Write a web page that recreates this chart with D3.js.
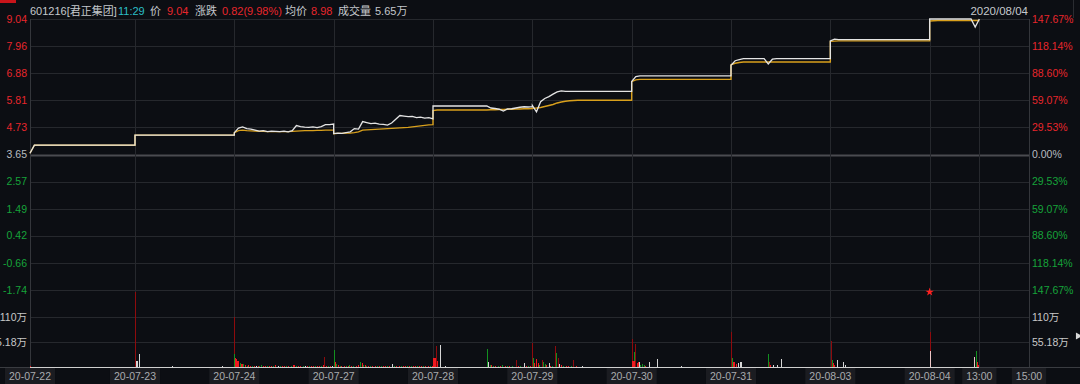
<!DOCTYPE html>
<html><head><meta charset="utf-8">
<script src="https://cdn.jsdelivr.net/npm/d3@7"></script>
<style>
html,body{margin:0;padding:0;background:#0c0e13;}
svg{display:block;}
text{font-family:"Liberation Sans","Noto Sans CJK SC",sans-serif;}
</style></head>
<body><svg id="c" width="1080" height="384"></svg>
<script>
// ---------- DATA ----------
const dayLabels = ["20-07-22","20-07-23","20-07-24","20-07-27","20-07-28","20-07-29","20-07-30","20-07-31","20-08-03","20-08-04"];
const extraLabels = [["13:00",9.5],["15:00",10]];
const priceTicks = [9.04,7.96,6.88,5.81,4.73,3.65,2.57,1.49,0.42,-0.66,-1.74];
const pctLabels = ["147.67%","118.14%","88.60%","59.07%","29.53%","0.00%","29.53%","59.07%","88.60%","118.14%","147.67%"];
const volTicks = [110,55.18];
const volTickLabels = ["110万","55.18万"];
const preClose = 3.65;

// price per day (10-minute samples, 9:30 .. 15:00)
const price0722 = [3.70,4.02,4.02,4.02,4.02,4.02,4.02,4.02,4.02,4.02,4.02,4.02,4.02,4.02,4.02,4.02,4.02,4.02,4.02,4.02,4.02,4.02,4.02,4.02,4.02];
const price0723 = [4.42,4.42,4.42,4.42,4.42,4.42,4.42,4.42,4.42,4.42,4.42,4.42,4.42,4.42,4.42,4.42,4.42,4.42,4.42,4.42,4.42,4.42,4.42,4.42,4.42];
const price0724 = [4.52,4.70,4.75,4.68,4.66,4.62,4.58,4.60,4.56,4.58,4.57,4.56,4.58,4.55,4.60,4.80,4.76,4.74,4.73,4.75,4.72,4.76,4.84,4.84,4.86];
const price0727 = [4.48,4.50,4.49,4.52,4.55,4.68,4.66,4.96,4.92,4.88,4.90,4.86,4.85,4.82,4.90,5.05,5.20,5.18,5.16,5.17,5.12,5.14,5.10,5.12,5.07];
const price0728 = [5.58,5.58,5.58,5.58,5.58,5.58,5.58,5.58,5.58,5.58,5.58,5.58,5.58,5.58,5.50,5.48,5.45,5.38,5.46,5.47,5.50,5.53,5.55,5.54,5.55];
const price0729 = [5.60,5.35,5.75,5.88,5.95,6.05,6.14,6.18,6.16,6.16,6.16,6.16,6.16,6.16,6.16,6.16,6.16,6.16,6.16,6.16,6.16,6.16,6.16,6.16,6.16];
const price0730 = [6.55,6.75,6.78,6.78,6.78,6.78,6.78,6.78,6.78,6.78,6.78,6.78,6.78,6.78,6.78,6.78,6.78,6.78,6.78,6.78,6.78,6.78,6.78,6.78,6.78];
const price0731 = [7.20,7.38,7.42,7.46,7.46,7.46,7.46,7.46,7.46,7.25,7.44,7.46,7.46,7.46,7.46,7.46,7.46,7.46,7.46,7.46,7.46,7.46,7.46,7.46,7.46];
const price0803 = [8.17,8.24,8.22,8.22,8.22,8.22,8.22,8.22,8.22,8.22,8.22,8.22,8.22,8.22,8.22,8.22,8.22,8.22,8.22,8.22,8.22,8.22,8.22,8.22,8.22];
const price0804 = [9.04,9.04,9.04,9.04,9.04,9.04,9.04,9.04,9.04,9.04,9.04,8.72,9.04];

// average price per day
const avg0722 = [3.70,4.02,4.02,4.02,4.02,4.02,4.02,4.02,4.02,4.02,4.02,4.02,4.02,4.02,4.02,4.02,4.02,4.02,4.02,4.02,4.02,4.02,4.02,4.02,4.02];
const avg0723 = [4.42,4.42,4.42,4.42,4.42,4.42,4.42,4.42,4.42,4.42,4.42,4.42,4.42,4.42,4.42,4.42,4.42,4.42,4.42,4.42,4.42,4.42,4.42,4.42,4.42];
const avg0724 = [4.52,4.60,4.62,4.60,4.59,4.58,4.57,4.57,4.56,4.56,4.56,4.56,4.56,4.56,4.57,4.58,4.59,4.60,4.60,4.60,4.61,4.61,4.62,4.62,4.62];
const avg0727 = [4.48,4.49,4.49,4.50,4.50,4.52,4.55,4.62,4.63,4.64,4.65,4.66,4.67,4.68,4.69,4.70,4.71,4.72,4.73,4.75,4.77,4.79,4.81,4.83,4.84];
const avg0728 = [5.40,5.42,5.42,5.42,5.42,5.42,5.42,5.42,5.42,5.42,5.42,5.42,5.42,5.42,5.43,5.43,5.44,5.44,5.45,5.45,5.46,5.46,5.47,5.47,5.48];
const avg0729 = [5.49,5.50,5.52,5.56,5.60,5.64,5.70,5.74,5.77,5.79,5.80,5.81,5.81,5.81,5.81,5.81,5.81,5.81,5.81,5.81,5.81,5.81,5.81,5.81,5.81];
const avg0730 = [6.55,6.62,6.64,6.64,6.64,6.64,6.64,6.64,6.64,6.64,6.64,6.64,6.64,6.64,6.64,6.64,6.64,6.64,6.64,6.64,6.64,6.64,6.64,6.64,6.64];
const avg0731 = [7.22,7.28,7.31,7.33,7.33,7.33,7.33,7.33,7.33,7.33,7.33,7.33,7.33,7.33,7.33,7.33,7.33,7.33,7.33,7.33,7.33,7.33,7.33,7.33,7.33];
const avg0803 = [8.15,8.16,8.17,8.17,8.17,8.17,8.17,8.17,8.17,8.17,8.17,8.17,8.17,8.17,8.17,8.17,8.17,8.17,8.17,8.17,8.17,8.17,8.17,8.17,8.17];
const avg0804 = [8.96,8.97,8.98,8.98,8.98,8.98,8.98,8.98,8.98,8.98,8.98,8.98,8.98];

const priceDays = [price0722,price0723,price0724,price0727,price0728,price0729,price0730,price0731,price0803,price0804];
const avgDays = [avg0722,avg0723,avg0724,avg0727,avg0728,avg0729,avg0730,avg0731,avg0803,avg0804];

// volume bars: [day, minute, 万, colour code]
const volumes = [
[0,0,3,'r'],
[1,0,165,'R'],[1,3,14,'w'],[1,5,14,'w'],[1,10,29,'w'],[1,90,3,'w'],[1,212,2,'w'],
[2,0,109,'R'],[2,1,29,'g'],[2,3,20,'r'],[2,5,18,'r'],[2,8,14,'r'],[2,11,13,'r'],[2,14,9,'g'],[2,17,7,'r'],[2,20,6,'r'],[2,23,6,'g'],[2,27,4,'r'],[2,31,3,'g'],[2,35,4,'r'],[2,40,3,'r'],[2,44,2,'g'],[2,49,3,'r'],[2,53,2,'w'],[2,58,3,'r'],[2,62,2,'g'],[2,66,5,'g'],[2,70,3,'r'],[2,75,2,'r'],[2,80,3,'g'],[2,85,2,'r'],[2,90,3,'r'],[2,95,2,'g'],[2,100,4,'r'],[2,106,2,'w'],[2,111,3,'g'],[2,116,2,'r'],[2,121,3,'r'],[2,127,2,'g'],[2,132,3,'r'],[2,137,2,'g'],[2,142,5,'r'],[2,146,4,'r'],[2,151,3,'g'],[2,156,2,'r'],[2,161,3,'r'],[2,166,2,'g'],[2,171,3,'w'],[2,176,2,'r'],[2,181,3,'g'],[2,186,2,'r'],[2,191,3,'r'],[2,196,2,'g'],[2,201,3,'r'],[2,206,2,'r'],[2,211,3,'g'],[2,216,4,'r'],[2,219,21,'R'],[2,223,3,'r'],[2,228,2,'g'],[2,233,3,'r'],[2,238,2,'w'],
[3,1,37,'g'],[3,3,12,'g'],[3,5,10,'r'],[3,8,6,'g'],[3,12,4,'r'],[3,16,3,'g'],[3,20,3,'r'],[3,25,2,'r'],[3,30,3,'g'],[3,35,2,'r'],[3,39,5,'g'],[3,44,3,'r'],[3,49,2,'g'],[3,54,3,'r'],[3,59,4,'r'],[3,64,12,'r'],[3,66,10,'g'],[3,69,8,'r'],[3,72,5,'g'],[3,76,4,'r'],[3,80,3,'g'],[3,85,3,'r'],[3,90,2,'g'],[3,95,3,'r'],[3,100,2,'r'],[3,105,3,'g'],[3,110,2,'r'],[3,115,3,'g'],[3,120,2,'r'],[3,125,3,'r'],[3,130,2,'g'],[3,135,3,'r'],[3,143,7,'w'],[3,148,3,'g'],[3,153,2,'r'],[3,158,3,'r'],[3,163,2,'g'],[3,168,3,'r'],[3,173,2,'r'],[3,178,3,'g'],[3,183,2,'r'],[3,188,3,'g'],[3,193,2,'r'],[3,198,3,'r'],[3,203,2,'g'],[3,208,3,'r'],[3,213,2,'r'],[3,218,3,'g'],[3,223,2,'r'],[3,228,3,'r'],[3,233,2,'g'],[3,238,3,'r'],
[4,2,19,'r'],[4,4,19,'r'],[4,6,19,'r'],[4,8,46,'R'],[4,10,14,'r'],[4,18,48,'w'],[4,29,3,'w'],[4,132,39,'g'],[4,134,12,'w'],[4,138,5,'g'],[4,142,4,'r'],[4,147,3,'g'],[4,152,2,'r'],[4,158,3,'g'],[4,163,2,'r'],[4,169,5,'g'],[4,174,3,'r'],[4,180,2,'g'],[4,186,3,'r'],[4,192,2,'g'],[4,201,15,'R'],[4,206,3,'r'],[4,212,2,'g'],[4,220,8,'w'],[4,225,3,'r'],[4,230,2,'g'],[4,236,3,'r'],
[5,1,52,'R'],[5,3,20,'g'],[5,6,9,'r'],[5,11,17,'r'],[5,14,8,'r'],[5,18,5,'g'],[5,24,15,'R'],[5,28,12,'g'],[5,31,6,'g'],[5,35,4,'r'],[5,41,8,'w'],[5,45,3,'r'],[5,49,3,'g'],[5,55,46,'R'],[5,59,31,'g'],[5,63,20,'R'],[5,65,7,'w'],[5,70,4,'r'],[5,76,3,'g'],[5,82,2,'r'],[5,88,3,'r'],[5,94,2,'g'],[5,100,15,'R'],[5,106,2,'r'],[5,122,3,'w'],[5,160,1,'w'],
[6,2,61,'R'],[6,3,14,'r'],[6,4,14,'r'],[6,6,34,'g'],[6,8,14,'r'],[6,10,51,'R'],[6,13,8,'r'],[6,16,12,'r'],[6,18,11,'w'],[6,22,5,'g'],[6,26,6,'g'],[6,30,4,'g'],[6,34,3,'r'],[6,42,12,'w'],[6,63,18,'w'],[6,121,2,'w'],
[7,2,78,'R'],[7,3,20,'g'],[7,5,12,'r'],[7,7,12,'r'],[7,9,10,'r'],[7,14,7,'r'],[7,18,8,'w'],[7,22,12,'w'],[7,25,12,'w'],[7,90,29,'g'],[7,92,12,'R'],[7,95,5,'r'],[7,102,5,'w'],[7,112,5,'w'],[7,122,18,'w'],
[8,2,57,'R'],[8,5,15,'g'],[8,7,8,'r'],[8,10,4,'r'],[8,18,15,'w'],[8,31,12,'w'],[8,37,4,'w'],
[9,1,76,'R'],[9,2,35,'p'],[9,109,21,'p'],[9,112,35,'g'],[9,115,12,'r'],[9,119,5,'r']
];
const markerStar = [[9,0,165]];

const header = [
  ["601216[君正集团]", "#c4c8cc"],["11:29","#2bbfc6"],["价","#c4c8cc"],["9.04","#e8262c"],
  ["涨跌","#c4c8cc"],["0.82(9.98%)","#e8262c"],["均价","#c4c8cc"],["8.98","#e8262c"],
  ["成交量","#c4c8cc"],["5.65万","#c4c8cc"]
];
const headerX = [30,118,150,167,195,222,285,311,338,375];
const dateLabel = "2020/08/04";

// ---------- DRAW ----------
const svg = d3.select("#c");
const BG = "#0c0e13", GRID = "#26282d", RED = "#e8262c", GREEN = "#16a33a", GRAY = "#b8bcc0";
svg.append("rect").attr("width",1080).attr("height",384).attr("fill",BG);

const x = d3.scaleLinear().domain([0,1,10]).range([30,135,1029]);
const y = d3.scaleLinear().domain([-1.74,9.04]).range([290,19]);
const v = d3.scaleLinear().domain([0,110]).range([367,317]);

// top chrome
svg.append("rect").attr("x",0).attr("y",0).attr("width",16).attr("height",3).attr("fill","#c8141a");

// horizontal grid (price)
svg.append("g").selectAll("line").data(priceTicks).join("line")
  .attr("x1",x(0)).attr("x2",x(10))
  .attr("y1",d=>Math.round(y(d))+0.5).attr("y2",d=>Math.round(y(d))+0.5)
  .attr("stroke",d=>d===preClose?"#4a4b50":GRID)
  .attr("stroke-width",d=>d===preClose?2:1);
// horizontal grid (volume)
svg.append("g").selectAll("line").data(volTicks).join("line")
  .attr("x1",x(0)).attr("x2",x(10))
  .attr("y1",d=>Math.round(v(d))+0.5).attr("y2",d=>Math.round(v(d))+0.5)
  .attr("stroke",GRID);
// vertical grid
const vTicks = d3.range(1,10).concat([9.5]);
svg.append("g").selectAll("line").data(vTicks).join("line")
  .attr("x1",d=>Math.round(x(d))+0.5).attr("x2",d=>Math.round(x(d))+0.5)
  .attr("y1",y(9.04)).attr("y2",v(0))
  .attr("stroke",GRID);
// borders
svg.append("g").selectAll("line").data([0,10]).join("line")
  .attr("x1",d=>Math.round(x(d))+0.5).attr("x2",d=>Math.round(x(d))+0.5)
  .attr("y1",y(9.04)).attr("y2",384)
  .attr("stroke","#34363b");
svg.append("line").attr("x1",0).attr("x2",1080)
  .attr("y1",Math.round(v(0))+0.5).attr("y2",Math.round(v(0))+0.5).attr("stroke","#3a3c41");

// volume bars
const colorMap = {R:"#8e0b0d", r:"#f01a1f", g:"#139020", w:"#d6d6d6", p:"#ecc6c6"};
const tOf = (d,m)=>d + m/240;
// minimum-volume trace along the baseline
svg.append("line").attr("x1",x(0)).attr("x2",x(tOf(9,119)))
  .attr("y1",Math.round(v(0))+0.5).attr("y2",Math.round(v(0))+0.5)
  .attr("stroke","#cfcfcf");
svg.append("g").attr("shape-rendering","crispEdges").selectAll("rect").data(volumes).join("rect")
  .attr("x",d=>Math.floor(x(tOf(d[0],d[1]))))
  .attr("width",1)
  .attr("y",d=>v(d[2]))
  .attr("height",d=>v(0)-v(d[2]))
  .attr("fill",d=>colorMap[d[3]]);
// star marker
svg.append("g").selectAll("path").data(markerStar).join("path")
  .attr("transform",d=>`translate(${x(tOf(d[0],d[1]))},${v(d[2])})`)
  .attr("d",d3.symbol().type(d3.symbolStar).size(22))
  .attr("fill","#ff2020");

// price & average lines
function series(days){
  const pts=[];
  days.forEach((arr,d)=>arr.forEach((p,k)=>pts.push({t:d+k/24,p})));
  return pts;
}
const line = d3.line().x(d=>x(d.t)).y(d=>y(d.p));
svg.append("path").datum(series(avgDays)).attr("d",line)
  .attr("fill","none").attr("stroke","#d9a01c").attr("stroke-width",1.4);
svg.append("path").datum(series(priceDays)).attr("d",line)
  .attr("fill","none").attr("stroke","#e4e4e4").attr("stroke-width",1.3);

// left price labels
const colOf = d => d>preClose?RED:(d<preClose?GREEN:GRAY);
svg.append("g").selectAll("text").data(priceTicks).join("text")
  .attr("x",27).attr("y",d=>y(d)).attr("dy","0.36em")
  .attr("text-anchor","end").attr("font-size",10.5)
  .attr("fill",colOf).text(d=>d.toFixed(2));
// right pct labels
svg.append("g").selectAll("text").data(priceTicks).join("text")
  .attr("x",1032).attr("y",d=>y(d)).attr("dy","0.36em")
  .attr("font-size",10.5)
  .attr("fill",colOf).text((d,i)=>pctLabels[i]);
// volume labels
svg.append("g").selectAll("text").data(volTicks).join("text")
  .attr("x",27).attr("y",d=>v(d)).attr("dy","0.36em")
  .attr("text-anchor","end").attr("font-size",10.5)
  .attr("fill","#c8c8c8").text((d,i)=>volTickLabels[i]);
svg.append("g").selectAll("text").data(volTicks).join("text")
  .attr("x",1032).attr("y",d=>v(d)).attr("dy","0.36em")
  .attr("font-size",10.5)
  .attr("fill","#c8c8c8").text((d,i)=>volTickLabels[i]);

// bottom labels with boxes
const bottom = dayLabels.map((l,i)=>[l,i]).concat(extraLabels);
const bg = svg.append("g");
bottom.forEach(([l,t])=>{
  const g = bg.append("g");
  const r = g.append("rect").attr("fill","#1b1c21");
  const tx = g.append("text").attr("x",x(t)).attr("y",380).attr("text-anchor","middle")
    .attr("font-size",10.5).attr("fill","#a9abae").text(l);
  const w = tx.node().getComputedTextLength();
  r.attr("x",x(t)-w/2-4).attr("y",368).attr("width",w+8).attr("height",16);
});

// header
const hg = svg.append("g");
header.forEach(([s,c],i)=>{
  hg.append("text").attr("x",headerX[i]).attr("y",15).attr("font-size",11).attr("fill",c).text(s);
});
svg.append("text").attr("x",1028).attr("y",15).attr("text-anchor","end")
  .attr("font-size",11.5).attr("fill","#c4c8cc").text(dateLabel);

// right panel chrome
svg.append("line").attr("x1",1073.5).attr("x2",1073.5).attr("y1",0).attr("y2",18).attr("stroke","#2a2c31");
svg.append("path").attr("d",d3.symbol().type(d3.symbolTriangle).size(22))
  .attr("transform","translate(1078,336) rotate(90)").attr("fill","#d8d8d8");
</script>
</body></html>
